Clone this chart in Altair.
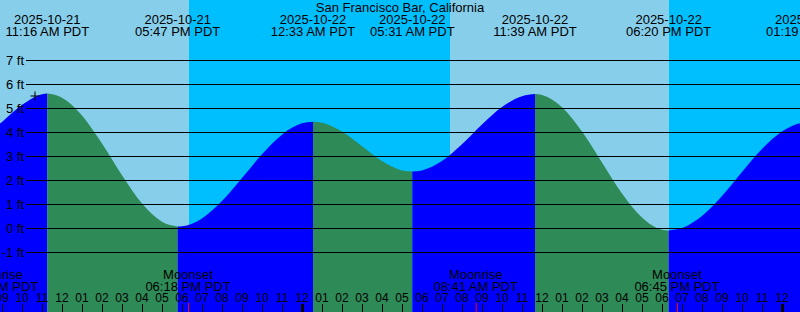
import altair as alt
import pandas as pd

# ---------------- data ----------------
TITLE = "San Francisco Bar, California"
VIEW_START = "2025-10-21T08:54"
VIEW_END = "2025-10-23T00:54"
FT_MIN, FT_MAX = -3.5, 9.5

# tide height readings (ft)
read_times = [
    "2025-10-21T08:54", "2025-10-21T09:00", "2025-10-21T10:00", "2025-10-21T11:00",
    "2025-10-21T12:00", "2025-10-21T13:00", "2025-10-21T14:00", "2025-10-21T15:00",
    "2025-10-21T16:00", "2025-10-21T17:00", "2025-10-21T18:00", "2025-10-21T19:00",
    "2025-10-21T20:00", "2025-10-21T21:00", "2025-10-21T22:00", "2025-10-21T23:00",
    "2025-10-22T00:00", "2025-10-22T01:00", "2025-10-22T02:00", "2025-10-22T03:00",
    "2025-10-22T04:00", "2025-10-22T05:00", "2025-10-22T06:00", "2025-10-22T07:00",
    "2025-10-22T08:00", "2025-10-22T09:00", "2025-10-22T10:00", "2025-10-22T11:00",
    "2025-10-22T12:00", "2025-10-22T13:00", "2025-10-22T14:00", "2025-10-22T15:00",
    "2025-10-22T16:00", "2025-10-22T17:00", "2025-10-22T18:00", "2025-10-22T19:00",
    "2025-10-22T20:00", "2025-10-22T21:00", "2025-10-22T22:00", "2025-10-22T23:00",
    "2025-10-23T00:00", "2025-10-23T01:00",
]
read_ft = [
    4.35, 4.42, 5.12, 5.57,
    5.43, 4.69, 3.52, 2.20,
    1.02, 0.26, 0.07, 0.40,
    1.12, 2.08, 3.07, 3.89,
    4.36, 4.39, 4.02, 3.41,
    2.79, 2.40, 2.40, 2.79,
    3.49, 4.31, 5.04, 5.49,
    5.54, 5.03, 4.02, 2.73,
    1.44, 0.44, -0.07, 0.00,
    0.50, 1.33, 2.33, 3.29,
    4.02, 4.38,
]

# high / low tides
ext_times = ["2025-10-21T11:16", "2025-10-21T17:47", "2025-10-22T00:33",
             "2025-10-22T05:31", "2025-10-22T11:39", "2025-10-22T18:20",
             "2025-10-23T01:19"]
ext_ft = [5.60, 0.06, 4.43, 2.35, 5.58, -0.10, 4.40]
ext_dates = ["2025-10-21", "2025-10-21", "2025-10-22", "2025-10-22",
             "2025-10-22", "2025-10-22", "2025-10-23"]
ext_clock = ["11:16 AM PDT", "05:47 PM PDT", "12:33 AM PDT", "05:31 AM PDT",
             "11:39 AM PDT", "06:20 PM PDT", "01:19 AM PDT"]

# day / night
sky_starts = ["2025-10-21T08:54", "2025-10-21T18:21", "2025-10-22T07:24", "2025-10-22T18:21"]
sky_ends = ["2025-10-21T18:21", "2025-10-22T07:24", "2025-10-22T18:21", "2025-10-23T00:54"]
sky_kind = ["day", "night", "day", "night"]

# moon events
moon_times = ["2025-10-21T08:42", "2025-10-21T18:18", "2025-10-22T08:41", "2025-10-22T18:45"]
moon_names = ["Moonrise", "Moonset", "Moonrise", "Moonset"]
moon_clock = ["08:42 AM PDT", "06:18 PM PDT", "08:41 AM PDT", "06:45 PM PDT"]

# marker
mark_time = ["2025-10-21T10:39"]
mark_ft = [5.5]

# y grid
grid_ft = [7, 6, 5, 4, 3, 2, 1, 0, -1]
grid_labels = ["7 ft", "6 ft", "5 ft", "4 ft", "3 ft", "2 ft", "1 ft", "0 ft", "-1 ft"]

# hour ticks
hour_stamps = pd.date_range("2025-10-21 09:00", "2025-10-23 00:00", freq="h")
hour_labels = [h.strftime("%I") for h in hour_stamps]

# ---------------- helpers ----------------
def iso(s):
    return pd.Timestamp(s).strftime("%Y-%m-%dT%H:%M:%SZ")


def ms(s):
    return int(pd.Timestamp(s, tz="UTC").value // 10**6)


FONT = "Liberation Sans"
X_SCALE = alt.Scale(domain=[ms(VIEW_START), ms(VIEW_END)])
Y_SCALE = alt.Scale(domain=[FT_MIN, FT_MAX])


def xenc(field):
    return alt.X(f"{field}:T", scale=X_SCALE, axis=None)


# ---------------- tide segments ----------------
pts = pd.DataFrame({"time": read_times + ext_times, "ft": read_ft + ext_ft})
pts["ts"] = pd.to_datetime(pts["time"])
pts = pts.sort_values("ts").reset_index(drop=True)
bounds = [pts["ts"].min()] + list(pd.to_datetime(ext_times)) + [pts["ts"].max()]
rows = []
for k in range(len(bounds) - 1):
    a, b = bounds[k], bounds[k + 1]
    seg = pts[(pts["ts"] >= a) & (pts["ts"] <= b)]
    if len(seg) < 2:
        continue
    direction = "rise" if seg["ft"].iloc[-1] > seg["ft"].iloc[0] else "fall"
    for _, r in seg.iterrows():
        rows.append({"time": iso(r["ts"]), "ft": r["ft"], "seg": k, "dir": direction})
tide_df = pd.DataFrame(rows)

sky_df = pd.DataFrame({"start": [iso(s) for s in sky_starts],
                       "end": [iso(s) for s in sky_ends], "kind": sky_kind})
ext_df = pd.DataFrame({"time": [iso(t) for t in ext_times], "ft": ext_ft,
                       "date": ext_dates, "clock": ext_clock})
moon_df = pd.DataFrame({"time": [iso(t) for t in moon_times],
                        "name": moon_names, "clock": moon_clock})
grid_df = pd.DataFrame({"ft": grid_ft, "label": grid_labels})
hour_df = pd.DataFrame({"time": [iso(h) for h in hour_stamps], "label": hour_labels,
                        "midnight": [h.hour == 0 for h in hour_stamps]})
mark_df = pd.DataFrame({"time": [iso(t) for t in mark_time], "ft": mark_ft})
title_df = pd.DataFrame({"t": [TITLE]})

# ---------------- layers ----------------
sky = alt.Chart(sky_df).mark_rect().encode(
    x=xenc("start"), x2="end:T",
    y=alt.Y(datum=FT_MAX, scale=Y_SCALE, axis=None), y2=alt.Y2(datum=FT_MIN),
    color=alt.Color("kind:N", scale=alt.Scale(domain=["day", "night"],
                    range=["#87CEEB", "#00BFFF"]), legend=None),
)

tide = alt.Chart(tide_df).mark_area(interpolate="monotone", clip=True).encode(
    x=xenc("time"),
    y=alt.Y("ft:Q", scale=Y_SCALE, axis=None, stack=None),
    y2=alt.Y2(datum=FT_MIN),
    color=alt.Color("dir:N", scale=alt.Scale(domain=["rise", "fall"],
                    range=["#0000FF", "#2E8B57"]), legend=None),
    detail="seg:N",
)

grid = alt.Chart(grid_df).mark_rule(color="black", strokeWidth=1, yOffset=0.5).encode(
    y=alt.Y("ft:Q", scale=Y_SCALE, axis=None), x=alt.value(26), x2=alt.value(800))
grid_text = alt.Chart(grid_df).mark_text(
    align="right", baseline="alphabetic", dy=4.5, font=FONT, fontSize=13, color="black"
).encode(y=alt.Y("ft:Q", scale=Y_SCALE, axis=None), x=alt.value(24), text="label:N")

top_date = alt.Chart(ext_df).mark_text(
    align="center", baseline="alphabetic", font=FONT, fontSize=13, color="black", clip=True
).encode(x=xenc("time"), y=alt.value(24), text="date:N")
top_clock = alt.Chart(ext_df).mark_text(
    align="center", baseline="alphabetic", font=FONT, fontSize=13, color="black", clip=True
).encode(x=xenc("time"), y=alt.value(36), text="clock:N")

title = alt.Chart(title_df).mark_text(
    align="center", baseline="alphabetic", font=FONT, fontSize=13, color="black"
).encode(x=alt.value(400), y=alt.value(12), text="t:N")

moon_name = alt.Chart(moon_df).mark_text(
    align="center", baseline="alphabetic", font=FONT, fontSize=13, color="black", clip=True
).encode(x=xenc("time"), y=alt.value(278.5), text="name:N")
moon_time = alt.Chart(moon_df).mark_text(
    align="center", baseline="alphabetic", font=FONT, fontSize=13, color="black", clip=True
).encode(x=xenc("time"), y=alt.value(290.5), text="clock:N")
moon_ticks = alt.Chart(moon_df).mark_rule(color="#FF0000", strokeWidth=1, xOffset=0.5, clip=True).encode(
    x=xenc("time"), y=alt.value(303), y2=alt.value(312))

hour_ticks = alt.Chart(hour_df).transform_filter("!datum.midnight").mark_rule(
    color="black", strokeWidth=1, xOffset=0.5).encode(
    x=xenc("time"), y=alt.value(304), y2=alt.value(312))
midnight_ticks = alt.Chart(hour_df).transform_filter("datum.midnight").mark_rule(
    color="black", strokeWidth=3, xOffset=0.5).encode(
    x=xenc("time"), y=alt.value(304), y2=alt.value(312))
hour_text = alt.Chart(hour_df).mark_text(
    align="center", baseline="alphabetic", font=FONT, fontSize=12, color="black", clip=True
).encode(x=xenc("time"), y=alt.value(302), text="label:N")

plus = alt.Chart(mark_df).mark_point(
    shape="M-1,0L1,0M0,-1L0,1", size=81, filled=False, stroke="black",
    strokeWidth=1, opacity=1).encode(
    x=xenc("time"), y=alt.Y("ft:Q", scale=Y_SCALE, axis=None))

chart = alt.layer(
    sky, tide, grid, grid_text, top_date, top_clock, title,
    moon_name, moon_time, moon_ticks, hour_ticks, midnight_ticks, hour_text, plus,
).resolve_scale(color="independent").properties(
    width=800, height=312, padding=0,
    autosize=alt.AutoSizeParams(type="none"),
).configure_view(stroke=None)

chart.save("out.html", embed_options={"renderer": "svg", "actions": False})
